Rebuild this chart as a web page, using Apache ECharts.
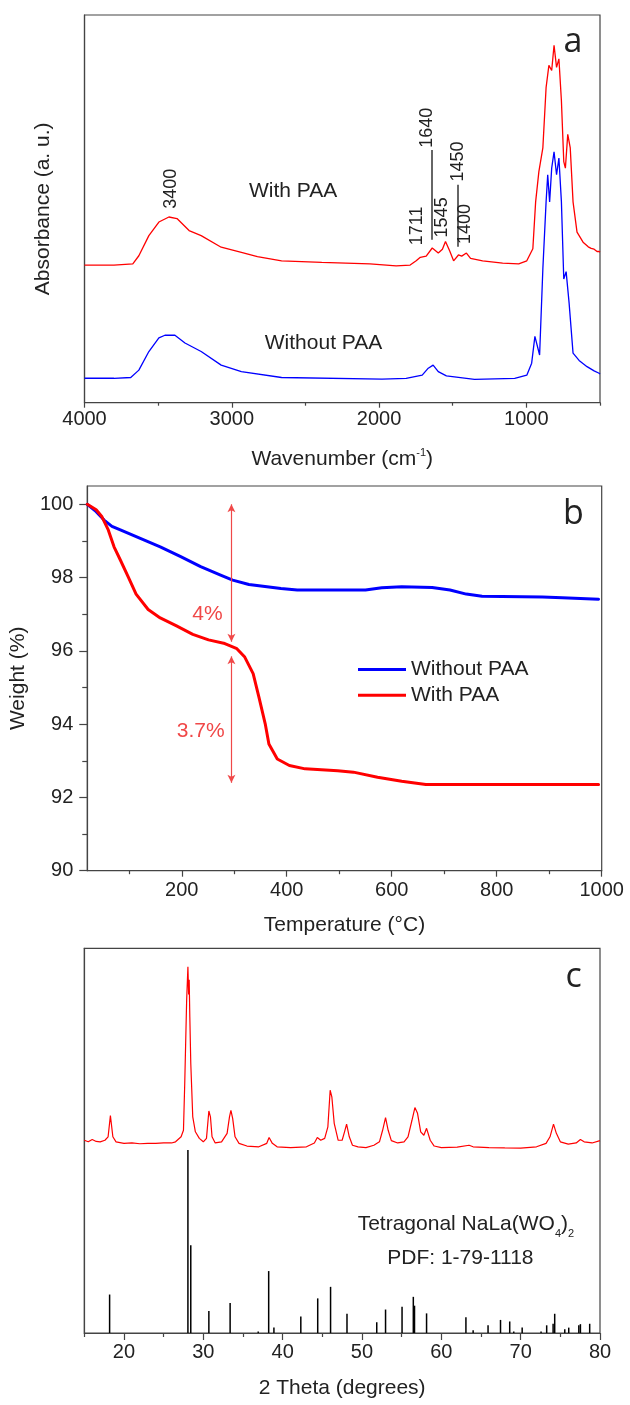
<!DOCTYPE html>
<html>
<head>
<meta charset="utf-8">
<script src="https://cdn.jsdelivr.net/npm/echarts@6/dist/echarts.min.js"></script>
<style>html,body{margin:0;padding:0;background:#fff}#c{width:630px;height:1405px}</style>
</head>
<body>
<div id="c"></div>
<script>
// ---------- Panel a: FTIR ----------
const ftirWithPAA = [[4000,35.5],[3800,35.5],[3672,35.8],[3631,37.9],[3563,43.1],[3495,46.6],[3427,47.9],[3372,47.5],[3290,44.4],[3208,43.1],[3072,40.1],[2935,38.8],[2826,37.7],[2662,36.6],[2389,36.2],[2062,35.8],[1884,35.3],[1789,35.5],[1748,36.6],[1720,37.5],[1680,37.8],[1639,39.9],[1598,38.6],[1570,39.6],[1549,41.6],[1521,39.2],[1494,36.6],[1461,38.1],[1439,37.8],[1407,38.6],[1379,37.2],[1297,36.6],[1161,36.0],[1052,35.8],[997,36.6],[956,39.7],[937,51.8],[915,59.6],[888,65.7],[866,81.3],[847,87.0],[828,85.7],[812,92.2],[795,86.5],[779,88.7],[762,77.9],[746,62.2],[735,60.5],[719,69.2],[702,65.7],[683,51.8],[656,44.0],[615,41.4],[580,40.2],[560,39.8],[540,39.6],[520,39.0],[506,39.0],[500,38.8]];
const ftirWithoutPAA = [[4000,6.3],[3800,6.3],[3686,6.5],[3631,8.4],[3563,13.2],[3495,16.7],[3454,17.4],[3386,17.4],[3318,15.4],[3208,13.2],[3072,9.7],[2935,8.0],[2662,6.5],[1980,6.1],[1816,6.3],[1707,7.1],[1666,8.9],[1633,9.7],[1598,8.0],[1543,6.9],[1352,6.0],[1079,6.3],[997,7.1],[964,10.2],[942,17.1],[929,17.5],[910,12.3],[888,34.5],[866,51.8],[855,58.8],[842,51.8],[828,60.5],[812,64.7],[795,58.8],[779,63.1],[762,51.8],[746,31.9],[730,33.8],[710,25.8],[683,12.8],[642,10.9],[588,9.3],[540,8.2],[506,7.6],[500,7.4]];
const ftirPeakLabels = [[3414,55.2,'3400'],[1744,45.6,'1711'],[1676,70.9,'1640'],[1575,47.8,'1545'],[1462,62.2,'1450'],[1416,46.1,'1400']];
const ftirPeakLines = [[1643,65.2,42.0],[1469,56.2,40.2]];
const ftirSampleLabels = [[2584,54.5,'With PAA'],[2377,15.4,'Without PAA']];
const ftirMajorTicks = [1000,2000,3000,4000];
const ftirMinorTicks = [500,1500,2500,3500];

// ---------- Panel b: TGA ----------
const tgaWithoutPAA = [[20,100.0],[37,99.8],[52,99.57],[67,99.4],[83,99.3],[121,99.07],[159,98.84],[198,98.57],[236,98.3],[274,98.07],[297,97.93],[328,97.81],[389,97.7],[420,97.66],[466,97.66],[550,97.66],[581,97.72],[619,97.75],[677,97.73],[711,97.66],[742,97.55],[772,97.49],[887,97.47],[925,97.45],[994,97.41]];
const tgaWithPAA = [[20,100],[37,99.85],[48,99.66],[60,99.3],[71,98.84],[83,98.48],[98,98.02],[113,97.55],[136,97.13],[159,96.9],[190,96.68],[221,96.45],[251,96.3],[282,96.2],[305,96.06],[320,95.83],[336,95.38],[347,94.74],[359,94.01],[366,93.46],[382,93.05],[405,92.87],[435,92.78],[497,92.73],[527,92.69],[573,92.55],[619,92.44],[665,92.35],[994,92.35]];
const tgaArrows = [[294.6,100.0,96.25],[294.6,95.85,92.4]];
const tgaLossLabels = [[249,96.99,'4%'],[236,93.82,'3.7%']];
const tgaXMajor = [200,400,600,800,1000];
const tgaXMinor = [100,300,500,700,900];
const tgaYMajor = [90,92,94,96,98,100];
const tgaYMinor = [91,93,95,97,99];

// ---------- Panel c: XRD ----------
const xrdSample = [[15,50.1],[15.5,49.7],[16,50.3],[16.5,49.8],[17,49.7],[17.6,50.1],[18.0,51.0],[18.29,56.5],[18.6,51.0],[19,49.7],[20,49.3],[21,49.4],[22,49.2],[23,49.3],[24,49.3],[25,49.4],[26,49.4],[26.5,49.7],[27.2,51.0],[27.5,52.7],[27.66,64.9],[27.9,86.5],[28.06,95.2],[28.15,88.0],[28.22,91.8],[28.3,82.2],[28.42,70.1],[28.67,56.2],[29.0,52.3],[29.5,50.6],[30.0,49.7],[30.4,50.6],[30.7,57.7],[30.9,56.2],[31.1,51.0],[31.5,49.4],[32.3,49.7],[33.0,51.9],[33.3,56.2],[33.48,57.9],[33.7,55.8],[34.0,51.0],[34.5,49.3],[35.5,48.6],[37,48.4],[38.0,49.3],[38.29,50.8],[38.7,49.3],[39.3,48.4],[41,48.2],[43,48.4],[44.0,49.4],[44.37,50.8],[44.8,50.1],[45.3,50.6],[45.7,53.6],[45.99,63.1],[46.2,61.4],[46.5,54.5],[47.0,50.1],[47.5,50.1],[47.8,52.3],[48.06,54.3],[48.4,51.0],[48.8,48.8],[49.5,48.4],[50.5,48.2],[51.5,48.8],[52.2,49.7],[52.6,52.7],[52.97,56.0],[53.3,52.7],[53.7,50.0],[54.5,49.4],[55.3,49.7],[55.8,51.0],[56.3,55.3],[56.67,58.6],[57.0,57.1],[57.4,52.3],[57.8,51.4],[58.14,53.2],[58.6,50.1],[59.1,48.6],[60,48.2],[62,48.3],[63.5,48.8],[64,48.4],[66,48.2],[68,48.1],[70,48.05],[72,48.4],[73.2,49.3],[73.7,51.0],[74.14,54.3],[74.5,51.9],[75,49.7],[76,49.1],[77,49.4],[77.53,50.3],[78,49.7],[79,49.4],[80,50.0]];
const pdfSticks = [[18.19,10.0],[28.06,47.6],[28.42,22.8],[30.70,5.7],[33.38,7.8],[36.92,0.4],[38.24,16.1],[38.90,1.4],[42.29,4.3],[44.42,9.0],[46.04,12.0],[48.11,5.0],[51.86,2.8],[52.97,6.1],[55.05,6.8],[56.47,9.4],[56.62,7.1],[58.14,5.1],[63.10,4.1],[64.01,0.7],[65.89,2.0],[67.46,3.4],[68.62,3.0],[69.13,0.4],[70.19,1.4],[72.57,0.4],[73.28,2.0],[74.09,2.4],[74.29,5.0],[75.56,1.0],[76.06,1.4],[77.33,2.0],[77.53,2.3],[78.70,2.4]];
const xrdTexts = [[63.1,28.3,'{t|Tetragonal NaLa(WO}{s|4}{t|)}{s|2}'],[62.4,19.5,'{t|PDF: 1-79-1118}']];
const xrdXMajor = [20,30,40,50,60,70,80];
const xrdXMinor = [15,25,35,45,55,65,75];

const FONT = "'Liberation Sans', Arial, Helvetica, sans-serif";
const AX = '#444';
const TXT = '#222';
const LOSS = '#f04848';

const chart = echarts.init(document.getElementById('c'), null, {renderer: 'canvas'});
const plain = v => String(v);

function mainX(grid, min, max, major, len, margin, name, nameGap, extra) {
  return Object.assign({
    type: 'value', gridIndex: grid, min: min, max: max, position: 'bottom',
    axisLine: {show: true, onZero: false, lineStyle: {color: AX, width: 1.2}},
    axisTick: {show: true, inside: false, length: len, customValues: major, lineStyle: {color: AX, width: 1.2}},
    axisLabel: {show: true, customValues: major, formatter: plain, margin: margin, fontSize: 20, fontFamily: FONT, color: TXT},
    splitLine: {show: false},
    name: name, nameLocation: 'middle', nameGap: nameGap,
    nameTextStyle: {fontSize: 21, fontFamily: FONT, color: TXT}
  }, extra || {});
}
function minorX(grid, min, max, minor, len, extra) {
  return Object.assign({
    type: 'value', gridIndex: grid, min: min, max: max, position: 'bottom',
    axisLine: {show: false, onZero: false},
    axisTick: {show: true, inside: false, length: len, customValues: minor, lineStyle: {color: AX, width: 1.2}},
    axisLabel: {show: false}, splitLine: {show: false}
  }, extra || {});
}

const labelScatter = (xi, yi, data, style, rotate) => ({
  type: 'scatter', xAxisIndex: xi, yAxisIndex: yi, data: data, symbolSize: 0, silent: true,
  itemStyle: {opacity: 1},
  label: Object.assign({show: true, position: 'inside', opacity: 1, rotate: rotate || 0, formatter: p => p.data[2]}, style),
  z: 10
});

const option = {
  animation: false,
  backgroundColor: '#fff',
  grid: [
    {left: 84.5, right: 30, top: 15, bottom: 1002.3, show: true, borderColor: AX, borderWidth: 1.2, backgroundColor: 'transparent'},
    {left: 86.7, right: 28.3, top: 486, bottom: 534.3, show: true, borderColor: AX, borderWidth: 1.2, backgroundColor: 'transparent'},
    {left: 84.3, right: 30, top: 948.3, bottom: 72, show: true, borderColor: AX, borderWidth: 1.2, backgroundColor: 'transparent'}
  ],
  xAxis: [
    mainX(0, 500, 4000, ftirMajorTicks, 5, 7, '{t|Wavenumber (cm}{s|-1}{t|)}', 45,
      {inverse: true, nameTextStyle: {rich: {t: {fontSize: 21, fontFamily: FONT, color: TXT, lineHeight: 24}, s: {fontSize: 11, fontFamily: FONT, color: TXT, verticalAlign: 'top', lineHeight: 14}}}}),
    minorX(0, 500, 4000, ftirMinorTicks, 3, {inverse: true}),
    mainX(1, 20, 1000, tgaXMajor, 6, 10, 'Temperature (\u00B0C)', 44),
    minorX(1, 20, 1000, tgaXMinor, 3.5),
    mainX(2, 15, 80, xrdXMajor, 7, 9, '2 Theta (degrees)', 45),
    minorX(2, 15, 80, xrdXMinor, 4)
  ],
  yAxis: [
    {type: 'value', gridIndex: 0, min: 0, max: 100, position: 'left',
      axisLine: {show: true, lineStyle: {color: AX, width: 1.2}}, axisTick: {show: false}, axisLabel: {show: false}, splitLine: {show: false},
      name: 'Absorbance (a. u.)', nameLocation: 'middle', nameGap: 31, nameTextStyle: {fontSize: 21, fontFamily: FONT, color: TXT}},
    {type: 'value', gridIndex: 1, min: 90, max: 100.5, position: 'left',
      axisLine: {show: true, lineStyle: {color: AX, width: 1.2}},
      axisTick: {show: true, length: 8, customValues: tgaYMajor, lineStyle: {color: AX, width: 1.2}},
      axisLabel: {show: true, customValues: tgaYMajor, formatter: plain, margin: 14, fontSize: 20, fontFamily: FONT, color: TXT},
      splitLine: {show: false},
      name: 'Weight (%)', nameLocation: 'middle', nameGap: 51, nameTextStyle: {fontSize: 21, fontFamily: FONT, color: TXT}},
    {type: 'value', gridIndex: 1, min: 90, max: 100.5, position: 'left',
      axisLine: {show: false}, axisTick: {show: true, length: 5, customValues: tgaYMinor, lineStyle: {color: AX, width: 1.2}},
      axisLabel: {show: false}, splitLine: {show: false}},
    {type: 'value', gridIndex: 2, min: 0, max: 100, position: 'left',
      axisLine: {show: true, lineStyle: {color: AX, width: 1.2}}, axisTick: {show: false}, axisLabel: {show: false}, splitLine: {show: false}}
  ],
  legend: {
    data: ['Without PAA', 'With PAA'], orient: 'vertical', left: 353, top: 654,
    icon: 'rect', itemWidth: 48, itemHeight: 3, itemGap: 4.7, selectedMode: false,
    textStyle: {fontSize: 21, fontFamily: FONT, color: TXT, lineHeight: 21}
  },
  series: [
    // panel a
    {type: 'line', name: 'FTIR with PAA', xAxisIndex: 0, yAxisIndex: 0, data: ftirWithPAA, symbol: 'none', lineStyle: {color: '#ff0000', width: 1.3}, itemStyle: {color: '#ff0000'},
      markLine: {silent: true, symbol: ['none', 'none'], label: {show: false}, lineStyle: {color: '#333', width: 1.5, type: 'solid'},
        data: ftirPeakLines.map(l => [{coord: [l[0], l[1]]}, {coord: [l[0], l[2]]}])}},
    {type: 'line', name: 'FTIR without PAA', xAxisIndex: 0, yAxisIndex: 0, data: ftirWithoutPAA, symbol: 'none', lineStyle: {color: '#0000ff', width: 1.3}, itemStyle: {color: '#0000ff'}},
    labelScatter(0, 0, ftirPeakLabels, {fontSize: 18, fontFamily: FONT, color: TXT}, 90),
    labelScatter(0, 0, ftirSampleLabels, {fontSize: 21, fontFamily: FONT, color: TXT}),
    // panel b
    {type: 'line', name: 'Without PAA', xAxisIndex: 2, yAxisIndex: 1, data: tgaWithoutPAA, symbol: 'none', lineStyle: {color: '#0000ff', width: 3, cap: 'round', join: 'round'}, itemStyle: {color: '#0000ff'}},
    {type: 'line', name: 'With PAA', xAxisIndex: 2, yAxisIndex: 1, data: tgaWithPAA, symbol: 'none', lineStyle: {color: '#ff0000', width: 3, cap: 'round', join: 'round'}, itemStyle: {color: '#ff0000'},
      markLine: {silent: true, symbol: ['arrow', 'arrow'], symbolSize: [6, 8], label: {show: false}, lineStyle: {color: LOSS, width: 1.2, type: 'solid'},
        data: tgaArrows.map(l => [{coord: [l[0], l[1]]}, {coord: [l[0], l[2]]}])}},
    labelScatter(2, 1, tgaLossLabels, {fontSize: 21, fontFamily: FONT, color: LOSS}),
    // panel c
    {type: 'line', name: 'XRD sample', xAxisIndex: 4, yAxisIndex: 3, data: xrdSample, symbol: 'none', lineStyle: {color: '#ff0000', width: 1.2}, itemStyle: {color: '#ff0000'}},
    {type: 'custom', name: 'PDF', xAxisIndex: 4, yAxisIndex: 3, data: pdfSticks, encode: {x: 0, y: 1}, silent: true,
      renderItem: function (params, api) {
        const x = api.value(0), h = api.value(1);
        const p0 = api.coord([x, 0]), p1 = api.coord([x, h]);
        return {type: 'line', shape: {x1: p0[0], y1: p0[1], x2: p1[0], y2: p1[1]}, style: {stroke: '#000', lineWidth: 1.5}};
      }},
    labelScatter(4, 3, xrdTexts, {fontFamily: FONT, color: TXT, rich: {
      t: {fontSize: 21, fontFamily: FONT, color: TXT, lineHeight: 24, verticalAlign: 'middle'},
      s: {fontSize: 11, fontFamily: FONT, color: TXT, lineHeight: 30, verticalAlign: 'bottom'}}})
  ],
  graphic: [
    {type: 'text', style: {text: 'a', x: 573, y: 42, fontSize: 34, fontFamily: "'Open Sans', sans-serif", fill: '#222', align: 'center', verticalAlign: 'middle'}},
    {type: 'text', style: {text: 'b', x: 573.5, y: 514, fontSize: 34, fontFamily: "'Open Sans', sans-serif", fill: '#222', align: 'center', verticalAlign: 'middle'}},
    {type: 'text', style: {text: 'c', x: 573.7, y: 977, fontSize: 34, fontFamily: "'Open Sans', sans-serif", fill: '#222', align: 'center', verticalAlign: 'middle'}}
  ]
};
chart.setOption(option);
</script>
</body>
</html>
